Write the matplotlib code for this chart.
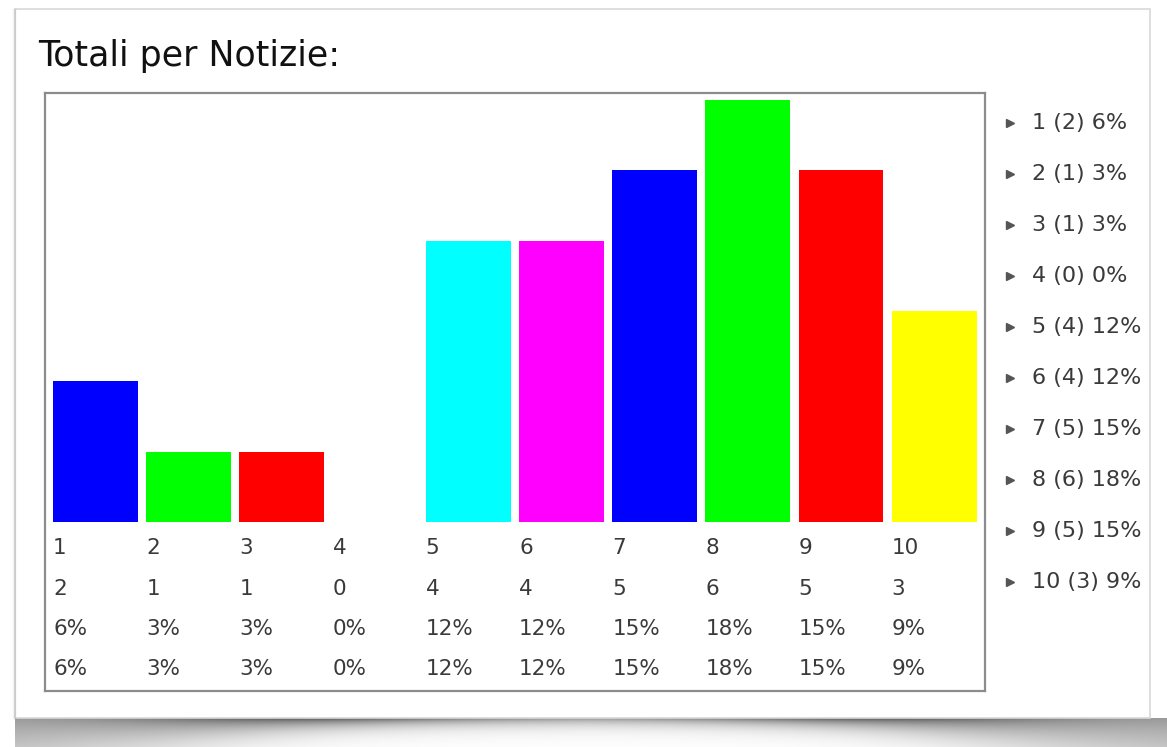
import numpy as np
import matplotlib
matplotlib.use("Agg")
import matplotlib.pyplot as plt
from matplotlib.patches import Rectangle

# data
cats = ["1", "2", "3", "4", "5", "6", "7", "8", "9", "10"]
counts = [2, 1, 1, 0, 4, 4, 5, 6, 5, 3]
pcts = ["6%", "3%", "3%", "0%", "12%", "12%", "15%", "18%", "15%", "9%"]
colors = ["#0000ff", "#00ff00", "#ff0000", "#ffff00", "#00ffff",
          "#ff00ff", "#0000ff", "#00ff00", "#ff0000", "#ffff00"]

W, H = 1167, 747
plt.rcParams['font.family'] = ['DejaVu Sans']
fig = plt.figure(figsize=(W / 100, H / 100), dpi=100)
fig.patch.set_facecolor("white")

# background card in pixel coords
bg = fig.add_axes([0, 0, 1, 1])
bg.set_xlim(0, W)
bg.set_ylim(H, 0)
bg.axis("off")

# bottom shadow (curled-page look)
yy, xx = np.mgrid[0:29, 15:W]
u = np.abs((xx - 590) / 575.0)
depth = 7 + 45 * u ** 4
amp = 0.38 + 0.25 * np.exp(-((u - 0.5) / 0.3) ** 2)
img = np.clip(1 - amp * np.exp(-yy / depth), 0, 1)
bg.imshow(np.dstack([img, img, img]), extent=(15, W, 747, 718),
          aspect="auto", zorder=0, interpolation="bilinear")

# soft left edge of the card
for k, a in enumerate([0.35, 0.2, 0.1]):
    bg.plot([15 - k, 15 - k], [9, 718], color="#b0b0b0", alpha=a, lw=1)
bg.add_patch(Rectangle((15, 9), 1135, 709, facecolor="white",
                       edgecolor="#d8d8d8", lw=1.2, zorder=1))
bg.text(38, 66, "Totali per Notizie:", fontsize=25, color="#111111",
        va="baseline", ha="left", zorder=2)

# main chart frame
ax = fig.add_axes([45 / W, 1 - 691 / H, 940 / W, 598 / H])
ax.set_zorder(3)
x = np.arange(len(cats))
bw = 0.91
ax.bar(x, counts, width=bw, color=colors, edgecolor="none")
ax.set_xlim(-0.541, 9.545)
ax.set_ylim(-2.40, 6.10)
ax.set_xticks([])
ax.set_yticks([])
for s in ax.spines.values():
    s.set_color("#8c8c8c")
    s.set_linewidth(1.6)

rows = [cats, [str(c) for c in counts], pcts, pcts]
offsets = [26, 67, 107, 147]
for row, off in zip(rows, offsets):
    for i, lab in enumerate(row):
        ax.annotate(lab, xy=(x[i] - bw / 2, 0), xytext=(0, -off),
                    textcoords="offset pixels", ha="left", va="center",
                    fontsize=15.5, color="#3a3a3a")

# legend list on the right
lg = fig.add_axes([1000 / W, 1 - 608 / H, 167 / W, 511 / H])
lg.set_xlim(0, 167)
lg.set_ylim(len(cats) - 0.5, -0.5)
lg.axis("off")
for i, (c, n, p) in enumerate(zip(cats, counts, pcts)):
    lg.plot(10, i, marker=">", color="#555555", markersize=6)
    lg.text(32, i, f"{c} ({n}) {p}", fontsize=16, color="#3a3a3a",
            ha="left", va="center")

fig.savefig("out.png", dpi=100, facecolor="white")
